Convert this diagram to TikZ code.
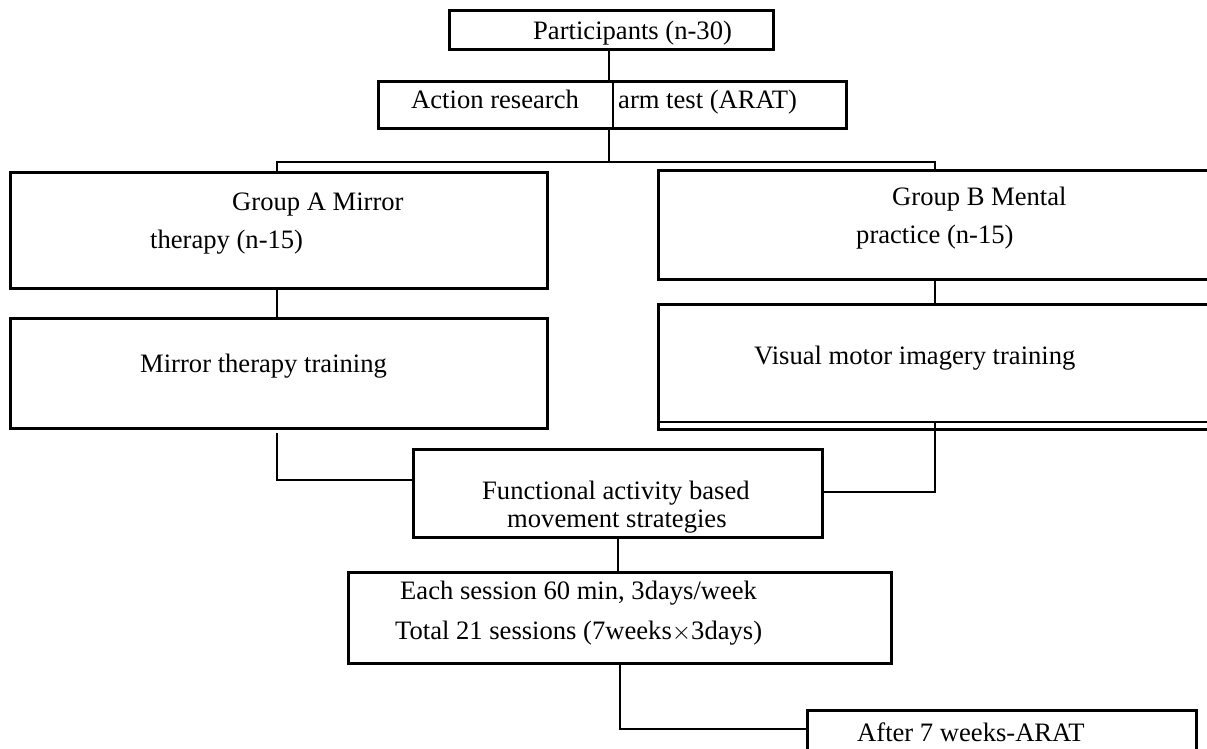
\documentclass[tikz,border=0pt]{standalone}
\usepackage{fontspec}
\setmainfont{Liberation Serif}
\begin{document}
\begin{tikzpicture}[x=1pt,y=-1pt,
  box/.style={draw, line width=2.6pt, inner sep=0pt, anchor=north west},
  txt/.style={anchor=base west, inner sep=0pt, font=\fontsize{26.6}{30}\selectfont},
  conn/.style={line width=2.6pt}]
\useasboundingbox (0,0) rectangle (1207,748);
\clip (0,0) rectangle (1207,748);
\fill[white] (0,0) rectangle (1207,748);
% boxes
\node[box, minimum width=324pt, minimum height=39pt] (part) at (448,9) {};
\node[box, minimum width=468pt, minimum height=47pt] (arat) at (377,80) {};
\node[box, minimum width=537pt, minimum height=116pt] (ga) at (9,171) {};
\node[box, minimum width=537pt, minimum height=110pt] (mt) at (9,317) {};
\node[box, minimum width=570pt, minimum height=109pt] (gb) at (657,169) {};
\node[box, minimum width=570pt, minimum height=125pt] (vm) at (657,303) {};
\node[box, minimum width=409pt, minimum height=88pt] (fa) at (412,448) {};
\node[box, minimum width=543pt, minimum height=91pt] (ss) at (347,571) {};
\node[box, minimum width=389pt, minimum height=60pt] (af) at (806,709) {};
% inner details
\coordinate (div) at (613,0);
\draw[conn] (div |- arat.north) -- (div |- arat.south);
\coordinate (vmline) at (0,422);
\draw[line width=1.6pt] (vmline -| vm.west) -- (vmline -| vm.east);
% texts
\node[txt] (t1) at (533,39) {Participants (n-30)};
\node[txt] (t2a) at (411,108) {Action research};
\node[txt] (t2b) at (618,108) {arm test (ARAT)};
\node[txt] (t3a) at (232,210) {Group A Mirror};
\node[txt] (t3b) at (150,248) {therapy (n-15)};
\node[txt] (t4) at (140,372) {Mirror therapy training};
\node[txt] (t5a) at (892,205) {Group B Mental};
\node[txt] (t5b) at (856,243) {practice (n-15)};
\node[txt] (t6) at (754,364) {Visual motor imagery training};
\node[txt] (t7a) at (482,499) {Functional activity based};
\node[txt] (t7b) at (507,527) {movement strategies};
\node[txt] (t8a) at (400,599) {Each session 60 min, 3days/week};
\node[txt] (t8b) at (395,639) {Total 21 sessions (7weeks$\times$3days)};
\node[txt] (t9) at (857,741) {After 7 weeks-ARAT};
% connectors
\coordinate (split) at (609,162);
\coordinate (jA) at (277,162);
\coordinate (jB) at (935,162);
\draw[conn] (split |- part.south) -- (split |- arat.north);
\draw[conn] (split |- arat.south) -- (split);
\draw[conn] (jA |- ga.north) -- (jA) -- (jB) -- (jB |- gb.north);
\draw[conn] (jA |- ga.south) -- (jA |- mt.north);
\draw[conn] (jB |- gb.south) -- (jB |- vm.north);
\coordinate (eL) at (277,480);
\coordinate (eLs) at (277,433);
\draw[conn] (eLs) -- (eL) -- (eL -| fa.west);
\coordinate (eR) at (935,492);
\draw[conn] (eR |- vmline) -- (eR) -- (eR -| fa.east);
\draw[conn] (fa.south) -- (fa.south |- ss.north);
\coordinate (eS) at (618,729);
\draw[conn] (ss.south) -- (ss.south |- eS) -- (eS -| af.west);
\end{tikzpicture}
\end{document}
